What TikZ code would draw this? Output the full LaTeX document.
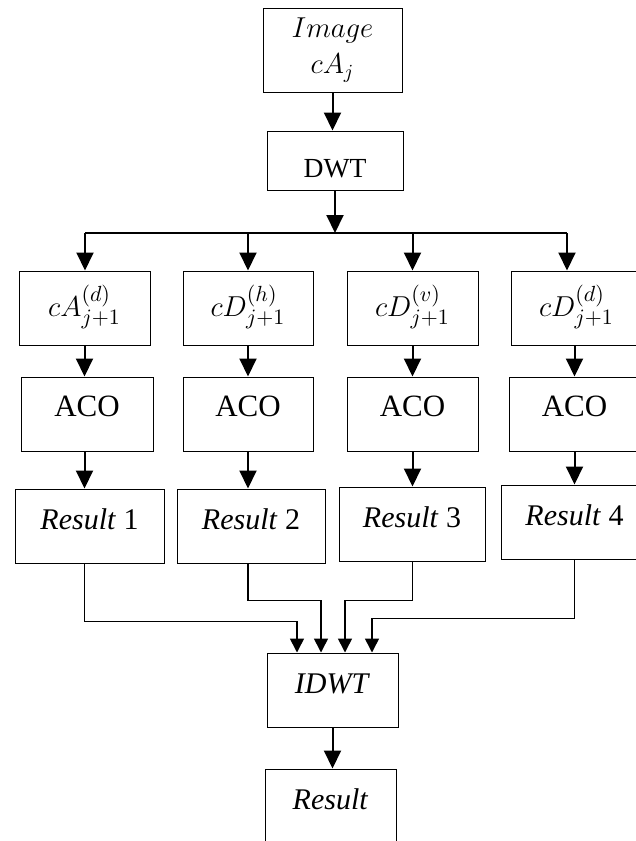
\documentclass[tikz,border=0pt]{standalone}
\usepackage{fontspec}
\setmainfont{Liberation Serif}
\usetikzlibrary{arrows.meta}

\begin{document}
\begin{tikzpicture}[x=0.5pt,y=-0.5pt,
    box/.style={draw,line width=0.5pt,inner sep=0pt,minimum height=37pt},
    coef/.style={box,minimum width=65.5pt,text height=18pt,text depth=9.3pt,
      font=\fontsize{15.2}{18}\selectfont},
    aco/.style={box,minimum width=65.5pt,text height=12pt,text depth=9.3pt,
      font=\fontsize{15.5}{18}\selectfont},
    res/.style={box,minimum width=74pt,text height=11pt,text depth=8pt,
      font=\fontsize{15}{18}\selectfont},
    flow/.style={-{Triangle[length=9pt,width=8.5pt]},line width=1pt},
    merge/.style={-{Triangle[length=7pt,width=7pt]},line width=0.8pt}]
  \useasboundingbox (0,0) rectangle (636,841);
  \clip (0,0) rectangle (636,841);
  \node[box,minimum width=69.5pt,minimum height=42pt,align=center,
    font=\fontsize{14.6}{18}\selectfont] (image) at (332.5,50) 
    {$Image$\\$cA_j$};
  \node[box,minimum width=68pt,minimum height=29.5pt,text height=20pt,
    text depth=3.5pt,font=\fontsize{13.8}{16}\selectfont] (dwt) at (335,160.5) 
    {DWT};
  \node[coef] (coefA) at (84.5,308) {$cA_{j+1}^{(d)}$};
  \node[coef,minimum width=65pt] (coefH) at (248,308) {$cD_{j+1}^{(h)}$};
  \node[coef] (coefV) at (412.5,308) {$cD_{j+1}^{(v)}$};
  \node[coef] (coefD) at (576.5,308) {$cD_{j+1}^{(d)}$};
  \node[aco,minimum width=66pt] (aco1) at (87,414) {ACO};
  \node[aco,minimum width=65pt] (aco2) at (248,414) {ACO};
  \node[aco] (aco3) at (412.5,414) {ACO};
  \node[aco] (aco4) at (574.5,414) {ACO};
  \node[res,minimum width=74.5pt] (result1) at (89.5,526) {\textit{Result} 1};
  \node[res] (result2) at (251,526) {\textit{Result} 2};
  \node[res,minimum width=73pt] (result3) at (412,524) {\textit{Result} 3};
  \node[res,minimum width=73.5pt] (result4) at (574.5,522) {\textit{Result} 4};
  \node[res,minimum width=65.5pt] (idwt) at (332.5,690) {\textit{IDWT}};
  \node[res,minimum width=65.5pt] (result) at (330.5,806) {\textit{Result}};
  \coordinate (bus) at (335,233);
  \coordinate (busL) at (85,233);
  \coordinate (busR) at (567,233);
  \draw [flow] (image.south) -- (image.south |- dwt.north);
  \draw [flow] (dwt.south) -- (bus);
  \draw [line width=1pt] (busL) -- (busR);
  \draw [flow] (busL) -- (busL |- coefA.north);
  \draw [flow] (coefH.north |- bus) -- (coefH.north);
  \draw [flow] (coefV.north |- bus) -- (coefV.north);
  \draw [flow] (busR) -- (busR |- coefD.north);
  \draw [flow] (coefA.south) -- (coefA.south |- aco1.north);
  \draw [flow] (coefH.south) -- (aco2.north);
  \draw [flow] (coefV.south) -- (aco3.north);
  \draw [flow] (aco4.north |- coefD.south) -- (aco4.north);
  \draw [flow] (coefA |- aco1.south) -- (coefA |- result1.north);
  \draw [flow] (coefH |- aco2.south) -- (coefH |- result2.north);
  \draw [flow] (coefV |- aco3.south) -- (coefV |- result3.north);
  \draw [flow] (aco4.south) -- (result4.north);
  \draw [merge] (coefA |- result1.south) |- ([xshift=-17.75pt,yshift=15.5pt]idwt.north) 
    -- ([xshift=-17.75pt]idwt.north);
  \draw [merge] (coefH |- result2.south) |- ([xshift=-5.75pt,yshift=26pt]idwt.north) 
    -- ([xshift=-5.75pt]idwt.north);
  \draw [merge] (coefV |- result3.south) |- ([xshift=6.25pt,yshift=26pt]idwt.north) 
    -- ([xshift=6.25pt]idwt.north);
  \draw [merge] (aco4 |- result4.south) |- ([xshift=19.75pt,yshift=17pt]idwt.north) 
    -- ([xshift=19.75pt]idwt.north);
  \draw [flow] (idwt.south) -- (idwt.south |- result.north);
\end{tikzpicture}
\end{document}
